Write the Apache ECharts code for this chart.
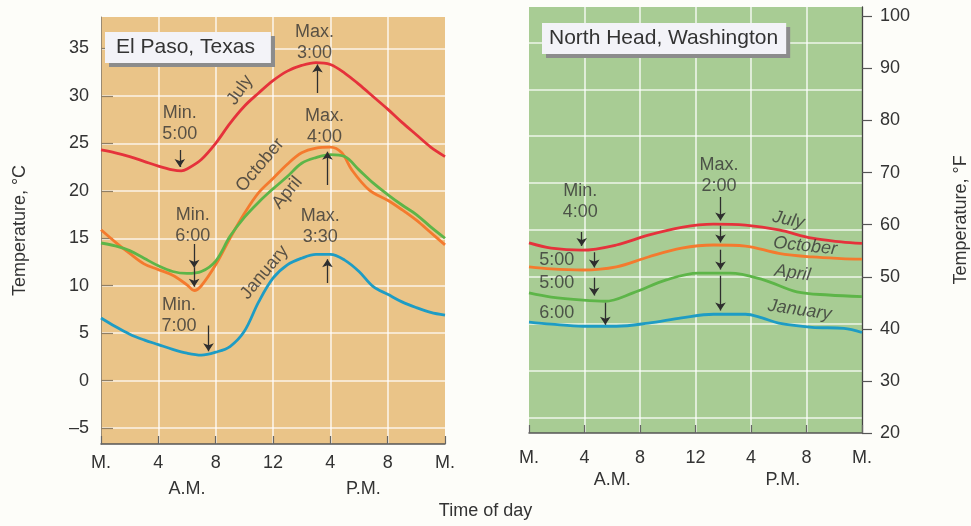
<!DOCTYPE html>
<html>
<head>
<meta charset="utf-8">
<script src="https://cdn.jsdelivr.net/npm/echarts@6/dist/echarts.min.js"></script>
<style>
html,body{margin:0;padding:0;background:#fdfdf9;}
#chart{width:971px;height:526px;}
</style>
</head>
<body>
<div id="chart"></div>
<script>
// ---------- DATA ----------
const hourTicks = [0, 4, 8, 12, 16, 20, 24];
const xTickLabels = ['M.', '4', '8', '12', '4', '8', 'M.'];
const ampmValues = [6, 18.3];
const ampmLabels = ['A.M.', 'P.M.'];
const celsiusTicks = [-5, 0, 5, 10, 15, 20, 25, 30, 35];
const fahrenheitTicks = [20, 30, 40, 50, 60, 70, 80, 90, 100];

// El Paso, Texas  [hour, °C]
const elPasoJuly = [[0,24.3],[1,24.0],[2,23.6],[3,23.1],[4,22.6],[5,22.2],[5.6,22.1],[6,22.3],[7,23.3],[8,25.0],[9,27.1],[10,28.9],[11,30.3],[12,31.6],[13,32.6],[14,33.2],[15,33.5],[16,33.3],[17,32.4],[18,31.2],[19,29.9],[20,28.6],[21,27.2],[22,25.9],[23,24.6],[24,23.6]];
const elPasoOctober = [[0,15.9],[1,14.6],[2,13.4],[3,12.3],[4,11.7],[5,11.1],[6,10.1],[6.5,9.5],[7,10.0],[8,12.2],[9,15.0],[10,17.6],[11,19.8],[12,21.3],[13,22.8],[14,24.0],[15,24.5],[16,24.6],[16.8,24.0],[17.5,22.2],[18.7,20.1],[20,19.0],[21,18.0],[22,16.9],[23,15.6],[24,14.3]];
const elPasoApril = [[0,14.5],[1,14.2],[2,13.7],[3,12.9],[4,12.1],[5,11.5],[6,11.3],[7,11.5],[8,12.6],[9,15.2],[10,17.2],[11,18.8],[12,20.2],[13,21.5],[14,22.9],[15,23.5],[16,23.8],[17,23.6],[18,22.2],[19,20.8],[20,19.6],[21,18.5],[22,17.5],[23,16.2],[24,15.0]];
const elPasoJanuary = [[0,6.6],[1,5.7],[2,4.9],[3,4.3],[4,3.8],[5,3.3],[6,2.9],[7,2.7],[8,3.0],[9,3.6],[10,5.2],[11,8.3],[12,10.8],[13,12.2],[14,12.9],[15,13.3],[16,13.3],[17,12.7],[18,11.5],[19,9.9],[20,9.1],[21,8.3],[22,7.7],[23,7.2],[24,6.9]];

// North Head, Washington  [hour, °F]
const northJuly = [[0,56.5],[1.6,55.5],[3.8,55.1],[6.3,56.1],[8.6,58.0],[11,59.5],[13.3,60.1],[15.6,59.9],[18,59.0],[20.4,57.4],[22.5,56.7],[24,56.4]];
const northOctober = [[0,51.9],[1.6,51.5],[3.9,51.3],[6.3,51.9],[8.6,53.8],[11,55.5],[13.3,56.1],[15.6,55.9],[18,54.5],[20.4,53.8],[22.5,53.5],[24,53.4]];
const northApril = [[0,46.9],[1.6,46.1],[3.9,45.5],[5.5,45.3],[7.5,46.9],[9.9,49.4],[12.2,50.7],[14.5,50.7],[16.9,49.4],[19.3,47.1],[21.6,46.5],[24,46.2]];
const northJanuary = [[0,41.3],[1.6,40.9],[3.9,40.5],[6.3,40.5],[8.6,41.1],[11,42.1],[13.3,42.8],[15.6,42.8],[16.8,42.1],[18,41.1],[20.4,40.3],[22.7,40.1],[24,39.3]];

// ---------- STYLE / LAYOUT ----------
const FONT = "'Liberation Sans', Arial, Helvetica, sans-serif";
const TXT = '#333333';
const colors = { July: '#e5323b', October: '#f47a2e', April: '#5db548', January: '#1e9cc4' };
const C_MIN = (20 - 32) / 1.8;      // 20 °F
const LEFT_C_MAX = 38.3;
const F_MAX = 101.8;
const RIGHT_C_MAX = (F_MAX - 32) / 1.8;

// annotation layout (text & arrows) in data coordinates
const elPasoNotes = [
  { t: 'Max.\n3:00', x: 14.9, y: 35.6 },
  { t: 'Min.\n5:00', x: 5.5, y: 27.1 },
  { t: 'Max.\n4:00', x: 15.6, y: 26.8 },
  { t: 'Min.\n6:00', x: 6.4, y: 16.3 },
  { t: 'Min.\n7:00', x: 5.45, y: 6.9 },
  { t: 'Max.\n3:30', x: 15.3, y: 16.2 }
];
const elPasoArrows = [
  [15.1, 30.3, 33.3], [5.5, 24.3, 22.5], [15.8, 20.6, 24.1],
  [6.5, 14.4, 11.9], [6.5, 11.9, 9.9], [7.5, 5.8, 3.1], [15.8, 10.3, 12.8]
];
const elPasoCurveLabels = [
  { t: 'July', x: 9.7, y: 30.6, r: 55 },
  { t: 'October', x: 11.1, y: 22.7, r: 50 },
  { t: 'April', x: 13.0, y: 19.8, r: 50 },
  { t: 'January', x: 11.4, y: 11.4, r: 50 }
];
const northNotes = [
  { t: 'Min.\n4:00', x: 3.7, y: 64.5 },
  { t: '5:00', x: 2.0, y: 53.2 },
  { t: '5:00', x: 2.0, y: 48.8 },
  { t: '6:00', x: 2.0, y: 43.0 },
  { t: 'Max.\n2:00', x: 13.7, y: 69.5 }
];
const northArrows = [
  [3.8, 58.6, 55.9], [4.7, 54.7, 51.8], [4.7, 49.8, 46.4], [5.5, 45.0, 40.8],
  [13.8, 65.3, 60.8], [13.8, 59.8, 56.6], [13.8, 55.2, 51.4], [13.8, 50.2, 43.5]
];
const northCurveLabels = [
  { t: 'July', x: 18.7, y: 60.9, r: -12 },
  { t: 'October', x: 19.9, y: 55.9, r: -6 },
  { t: 'April', x: 19.0, y: 50.7, r: -8 },
  { t: 'January', x: 19.5, y: 43.6, r: -8 }
];

// ---------- OPTION ----------
function xAxisMain(grid, margin) {
  return {
    type: 'value', gridIndex: grid, min: 0, max: 24, interval: 4,
    axisLine: { show: true, onZero: false, lineStyle: { color: '#555', width: 1.5 } },
    axisTick: { show: true, inside: true, length: 8, lineStyle: { color: '#666', width: 1.2 } },
    axisLabel: { margin: margin, color: TXT, fontSize: 18, fontFamily: FONT,
      formatter: v => { const i = hourTicks.indexOf(v); return i >= 0 ? xTickLabels[i] : ''; } },
    splitLine: { show: true, showMinLine: false, showMaxLine: false,
      lineStyle: { color: 'rgba(255,255,255,0.8)', width: 1.6 } }
  };
}
function xAxisAmPm(grid, margin) {
  return {
    type: 'value', gridIndex: grid, min: 0, max: 24, position: 'bottom',
    axisLine: { show: false, onZero: false }, axisTick: { show: false }, splitLine: { show: false },
    axisLabel: { margin: margin, color: TXT, fontSize: 18, fontFamily: FONT,
      customValues: ampmValues,
      formatter: v => ampmLabels[ampmValues.indexOf(v)] || '' }
  };
}

function lineSeries(name, data, xi, yi) {
  return {
    type: 'line', name: name, xAxisIndex: xi, yAxisIndex: yi, data: data,
    smooth: 0.35, showSymbol: false, symbol: 'none', silent: true,
    lineStyle: { color: colors[name], width: 2.8 }, z: 3
  };
}

function noteSeries(notes, curveLabels, xi, yi, italic) {
  const data = [];
  notes.forEach(n => data.push({
    value: [n.x, n.y],
    label: { show: true, formatter: n.t, position: 'inside', align: 'center', verticalAlign: 'middle',
      color: TXT, fontSize: 18, lineHeight: 21, fontFamily: FONT }
  }));
  curveLabels.forEach(n => data.push({
    value: [n.x, n.y],
    label: { show: true, formatter: n.t, position: 'inside', rotate: n.r, align: 'center', verticalAlign: 'middle',
      color: TXT, fontSize: 18, fontFamily: FONT, fontStyle: italic ? 'italic' : 'normal' }
  }));
  return {
    type: 'scatter', xAxisIndex: xi, yAxisIndex: yi, symbolSize: 0, silent: true, z: 5,
    data: data
  };
}

function arrowSeries(arrows, xi, yi) {
  return {
    type: 'lines', coordinateSystem: 'cartesian2d', xAxisIndex: xi, yAxisIndex: yi,
    silent: true, z: 6,
    symbol: ['none', 'arrow'], symbolSize: 8,
    lineStyle: { color: '#2e2e2e', width: 1.3, opacity: 1, curveness: 0 },
    data: arrows.map(a => ({ coords: [[a[0], a[1]], [a[0], a[2]]] }))
  };
}

const option = {
  backgroundColor: '#fdfdf9',
  animation: false,
  textStyle: { fontFamily: FONT },
  title: [
    { text: 'El Paso, Texas', left: 105, top: 32, padding: [4, 16, 4, 11],
      backgroundColor: '#f3f3f8', shadowColor: '#8c8c8c', shadowOffsetX: 4, shadowOffsetY: 4, shadowBlur: 0.01,
      textStyle: { color: TXT, fontSize: 21, fontWeight: 'normal', fontFamily: FONT, lineHeight: 23 } },
    { text: 'North Head, Washington', left: 542, top: 23, padding: [4, 8, 4, 7],
      backgroundColor: '#f3f3f8', shadowColor: '#8c8c8c', shadowOffsetX: 4, shadowOffsetY: 4, shadowBlur: 0.01,
      textStyle: { color: TXT, fontSize: 21, fontWeight: 'normal', fontFamily: FONT, lineHeight: 23 } }
  ],
  grid: [
    { left: 101, top: 17, width: 344, height: 427, show: true, backgroundColor: '#eac488', borderWidth: 0 },
    { left: 529, top: 7, width: 342, height: 426, show: true, backgroundColor: '#a8cc94', borderWidth: 0 }
  ],
  xAxis: [xAxisMain(0, 10), xAxisAmPm(0, 36), xAxisMain(1, 16), xAxisAmPm(1, 38)],
  yAxis: [
    { type: 'value', gridIndex: 0, min: C_MIN, max: LEFT_C_MAX, position: 'left',
      name: 'Temperature, °C', nameLocation: 'middle', nameGap: 72,
      nameTextStyle: { color: TXT, fontSize: 18, fontFamily: FONT },
      axisLine: { show: true, onZero: false, lineStyle: { color: '#9a8a72', width: 1 } },
      axisTick: { show: true, inside: true, length: 12, customValues: celsiusTicks, lineStyle: { color: '#8f7f66', width: 1.2 } },
      axisLabel: { margin: 12, color: TXT, fontSize: 18, fontFamily: FONT, customValues: celsiusTicks,
        formatter: v => v < 0 ? '\u2013' + Math.abs(v) : String(v) },
      splitLine: { show: true, lineStyle: { color: 'rgba(255,255,255,0.8)', width: 1.6 } } },
    { type: 'value', gridIndex: 1, min: C_MIN, max: RIGHT_C_MAX, position: 'left',
      axisLine: { show: false, onZero: false }, axisTick: { show: false, customValues: celsiusTicks },
      axisLabel: { show: false, customValues: celsiusTicks },
      splitLine: { show: true, lineStyle: { color: 'rgba(255,255,255,0.8)', width: 1.6 } } },
    { type: 'value', gridIndex: 1, min: 20, max: F_MAX, position: 'right',
      name: 'Temperature, °F', nameLocation: 'middle', nameGap: 90,
      nameTextStyle: { color: TXT, fontSize: 18, fontFamily: FONT },
      axisLine: { show: true, onZero: false, lineStyle: { color: '#444', width: 1.3 } },
      axisTick: { show: true, inside: false, length: 10, customValues: fahrenheitTicks, lineStyle: { color: '#555', width: 1.2 } },
      axisLabel: { margin: 18, color: TXT, fontSize: 18, fontFamily: FONT, customValues: fahrenheitTicks },
      splitLine: { show: false } }
  ],
  graphic: [
    { type: 'text', left: 'center', top: 502, style: { text: 'Time of day', fill: TXT, fontSize: 18, fontFamily: FONT } }
  ],
  series: [
    lineSeries('July', elPasoJuly, 0, 0),
    lineSeries('October', elPasoOctober, 0, 0),
    lineSeries('April', elPasoApril, 0, 0),
    lineSeries('January', elPasoJanuary, 0, 0),
    lineSeries('July', northJuly, 2, 2),
    lineSeries('October', northOctober, 2, 2),
    lineSeries('April', northApril, 2, 2),
    lineSeries('January', northJanuary, 2, 2),
    noteSeries(elPasoNotes, elPasoCurveLabels, 0, 0, false),
    noteSeries(northNotes, northCurveLabels, 2, 2, true),
    arrowSeries(elPasoArrows, 0, 0),
    arrowSeries(northArrows, 2, 2)
  ]
};

const chart = echarts.init(document.getElementById('chart'), null, { renderer: 'canvas' });
chart.setOption(option);
</script>
</body>
</html>
